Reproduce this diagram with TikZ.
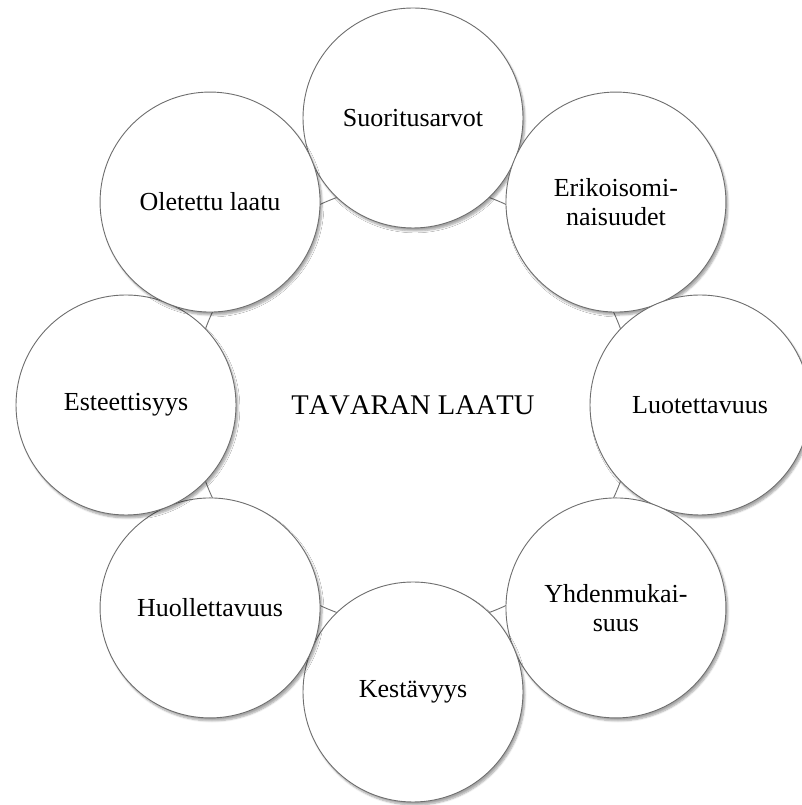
\documentclass[tikz,border=0pt]{standalone}
\usepackage{fontspec}
\setmainfont{Liberation Serif}
\newfontfamily\flatserif[Kerning=Off]{Liberation Serif}
\usetikzlibrary{calc,shadows.blur}
\definecolor{rimgray}{HTML}{6E6E6E}
\begin{document}
\begin{tikzpicture}[x=1pt,y=1pt,
  petal/.style={circle, draw=rimgray, line width=0.9pt, fill=white,
    minimum size=220pt, inner sep=0pt, align=center,
    font=\fontsize{26}{29}\selectfont,
    blur shadow={shadow xshift=2pt, shadow yshift=-3pt,
      shadow blur steps=6, shadow opacity=35}},
  hub/.style={circle, draw=rimgray, line width=0.9pt, fill=white,
    minimum size=442pt, inner sep=0pt,
    font=\flatserif\fontsize{28.5}{32}\selectfont}]
\useasboundingbox (0,0) rectangle (802,805);
\coordinate (c) at (413,400);
% central hub, only its rim shows between the petals
\node[hub] (hub) at (c) {TAVARAN LAATU};
% ring of eight quality dimensions, clockwise from the top
\node[petal] (p1) at ($(c)+(90:287)$)   {Suoritusarvot};
\node[petal] (p2) at ($(c)+(45:287)$)   {Erikoisomi-\\naisuudet};
\node[petal] (p3) at ($(c)+(0:287)$)    {Luotettavuus};
\node[petal] (p4) at ($(c)+(-45:287)$)  {Yhdenmukai-\\suus};
\node[petal] (p5) at ($(c)+(-90:287)$)  {Kestävyys};
\node[petal] (p6) at ($(c)+(-135:287)$) {Huollettavuus};
\node[petal] (p7) at ($(c)+(180:287)$)  {Esteettisyys};
\node[petal] (p8) at ($(c)+(135:287)$)  {Oletettu laatu};
\end{tikzpicture}
\end{document}
